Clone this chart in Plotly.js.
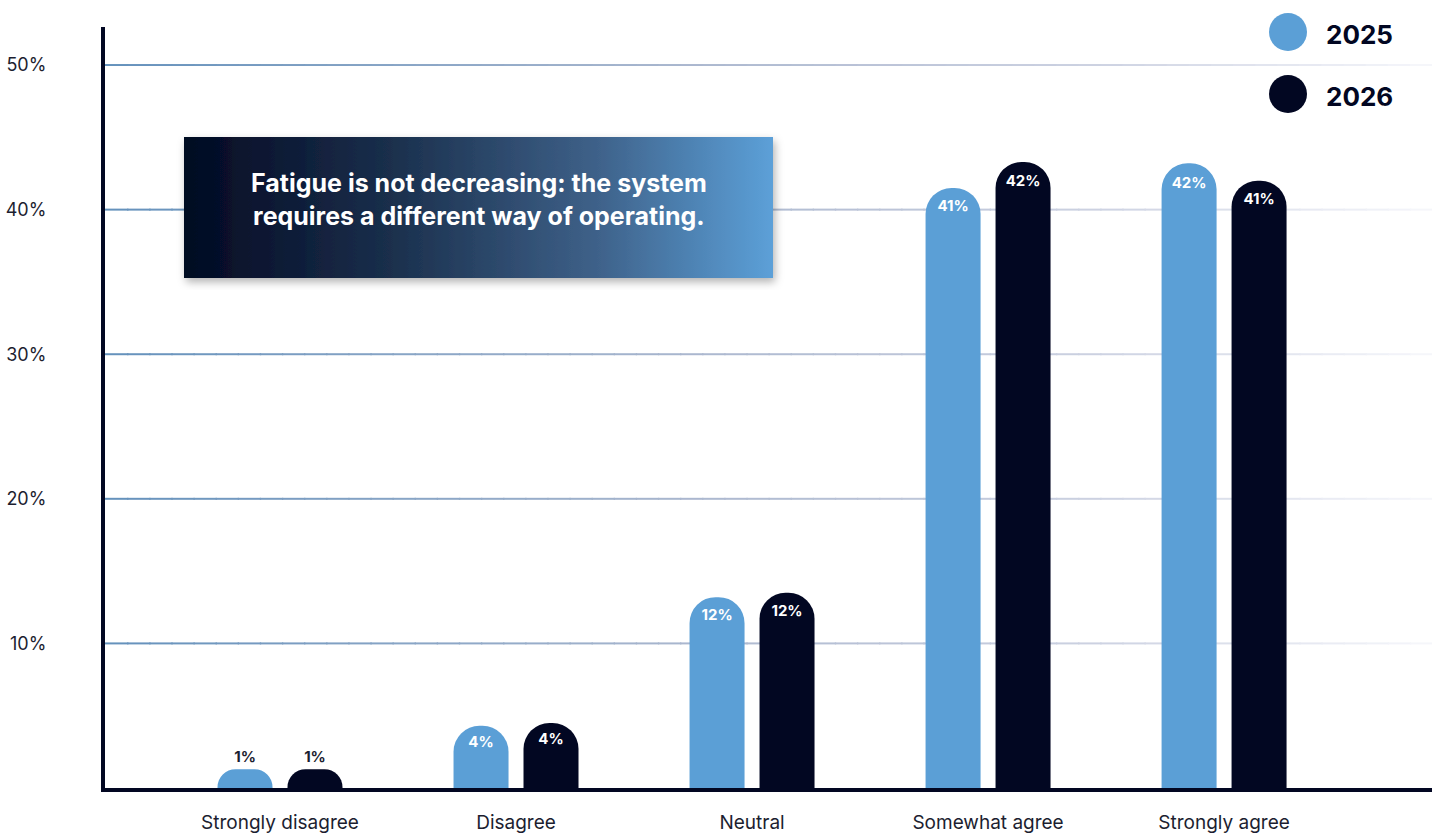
<!DOCTYPE html>
<html>
<head>
<meta charset="utf-8">
<script src="https://cdn.plot.ly/plotly-3.0.1.min.js"></script>
<style>
  html, body { margin: 0; padding: 0; background: #ffffff; }
  #chart { width: 1432px; height: 835px; }
</style>
</head>
<body>
<div id="chart"></div>
<script>
// ---- Data ----
const categories = ['Strongly disagree', 'Disagree', 'Neutral', 'Somewhat agree', 'Strongly agree'];
const seriesNames = ['2025', '2026'];
const values2025 = [1.3, 4.3, 13.2, 41.5, 43.2];
const values2026 = [1.3, 4.5, 13.5, 43.3, 42.0];
const labels2025 = ['1%', '4%', '12%', '41%', '42%'];
const labels2026 = ['1%', '4%', '12%', '42%', '41%'];
const yTickValues = [10, 20, 30, 40, 50];
const yTickLabels = ['10%', '20%', '30%', '40%', '50%'];
const calloutText = 'Fatigue is not decreasing: the system<br>requires a different way of operating.';

// ---- Styles ----
const FONT = 'Inter, "Noto Sans", sans-serif';
const BLUE = '#5b9fd6';
const NAVY = '#020722';
const TEXT_DARK = '#1c1e30';

function positions(vals) { return vals.map(v => v < 2 ? 'outside' : 'inside'); }

function barTrace(name, vals, labels, color) {
  return {
    type: 'bar',
    name: name,
    x: categories,
    y: vals,
    text: labels,
    textposition: positions(vals),
    insidetextanchor: 'end',
    textangle: 0,
    insidetextfont: { family: FONT, size: 15, color: '#ffffff', weight: 700 },
    outsidetextfont: { family: FONT, size: 15, color: TEXT_DARK, weight: 700 },
    marker: { color: color, line: { width: 0 } },
    hoverinfo: 'skip',
    cliponaxis: false,
    showlegend: false
  };
}

const traces = [
  barTrace(seriesNames[0], values2025, labels2025, BLUE),
  barTrace(seriesNames[1], values2026, labels2026, NAVY)
];

// Gradient gridlines (fading to the right)
const stops = [
  [0.00, [100, 145, 188]],
  [0.45, [172, 184, 207]],
  [0.75, [205, 210, 226]],
  [1.00, [246, 247, 251]]
];
function colorAt(t) {
  for (let i = 0; i < stops.length - 1; i++) {
    const [t0, c0] = stops[i], [t1, c1] = stops[i + 1];
    if (t >= t0 && t <= t1) {
      const f = (t - t0) / (t1 - t0);
      const c = c0.map((v, k) => Math.round(v + (c1[k] - v) * f));
      return 'rgb(' + c.join(',') + ')';
    }
  }
  return 'rgb(246,247,251)';
}
const shapes = [];
const SEG = 60;
yTickValues.forEach(v => {
  for (let k = 0; k < SEG; k++) {
    shapes.push({
      type: 'line', layer: 'below', xref: 'paper', yref: 'y',
      x0: k / SEG, x1: (k + 1) / SEG + 0.001, y0: v, y1: v,
      line: { color: colorAt((k + 0.5) / SEG), width: 2 }
    });
  }
});

// Legend circles
const L = 105, W = 1327, B = 788, H = 761;
const px = x => (x - L) / W;
const py = y => (B - y) / H;
shapes.push({ type: 'circle', xref: 'paper', yref: 'paper', x0: px(1269), x1: px(1307), y0: py(51), y1: py(13), fillcolor: BLUE, line: { width: 0 } });
shapes.push({ type: 'circle', xref: 'paper', yref: 'paper', x0: px(1269), x1: px(1307), y0: py(113), y1: py(75), fillcolor: NAVY, line: { width: 0 } });

// Callout box image (gradient + shadow)
const svg = '<svg xmlns="http://www.w3.org/2000/svg" width="613" height="165" viewBox="0 0 613 165">' +
  '<defs><linearGradient id="g" x1="0" y1="0" x2="1" y2="0">' +
  '<stop offset="0" stop-color="#020922"/><stop offset="0.35" stop-color="#1a2f4c"/>' +
  '<stop offset="0.7" stop-color="#3e6189"/><stop offset="1" stop-color="#5ca0d8"/></linearGradient>' +
  '<filter id="s" x="-10%" y="-20%" width="120%" height="140%"><feDropShadow dx="2" dy="4" stdDeviation="4" flood-color="#000" flood-opacity="0.3"/></filter></defs>' +
  '<rect x="12" y="12" width="589" height="141" fill="url(#g)" filter="url(#s)"/></svg>';
const images = [{
  source: 'data:image/svg+xml;charset=utf-8,' + encodeURIComponent(svg),
  xref: 'paper', yref: 'paper', x: px(172), y: py(125),
  sizex: 613 / W, sizey: 165 / H, sizing: 'stretch',
  xanchor: 'left', yanchor: 'top', layer: 'above'
}];

const annotations = [
  {
    xref: 'paper', yref: 'paper', x: px(479), y: py(199),
    xanchor: 'center', yanchor: 'middle', showarrow: false,
    text: calloutText, align: 'center',
    font: { family: FONT, size: 25, color: '#ffffff', weight: 700 }
  },
  {
    xref: 'paper', yref: 'paper', x: px(1324), y: py(35),
    xanchor: 'left', yanchor: 'middle', showarrow: false,
    text: seriesNames[0], font: { family: FONT, size: 26, color: NAVY, weight: 700 }
  },
  {
    xref: 'paper', yref: 'paper', x: px(1324), y: py(97),
    xanchor: 'left', yanchor: 'middle', showarrow: false,
    text: seriesNames[1], font: { family: FONT, size: 26, color: NAVY, weight: 700 }
  }
];

const layout = {
  width: 1432, height: 835,
  margin: { l: 105, r: 0, t: 27, b: 47, pad: 0 },
  paper_bgcolor: '#ffffff', plot_bgcolor: '#ffffff',
  font: { family: FONT, color: TEXT_DARK },
  barmode: 'group',
  bargap: 0.407,
  bargroupgap: 0.214,
  barcornerradius: 26,
  showlegend: false,
  xaxis: {
    type: 'category',
    range: [-0.7415, 4.881],
    showgrid: false, zeroline: false,
    showline: true, linecolor: NAVY, linewidth: 4,
    ticks: '', ticklabelstandoff: 14,
    tickfont: { family: FONT, size: 19, color: TEXT_DARK },
    fixedrange: true
  },
  yaxis: {
    range: [0, 52.63],
    tickvals: yTickValues, ticktext: yTickLabels,
    showgrid: false, zeroline: false,
    showline: true, linecolor: NAVY, linewidth: 4,
    ticks: '', ticklabelstandoff: 51,
    tickfont: { family: FONT, size: 18, color: TEXT_DARK },
    fixedrange: true
  },
  shapes: shapes,
  images: images,
  annotations: annotations
};

Plotly.newPlot('chart', traces, layout, { displayModeBar: false, staticPlot: true });
</script>
</body>
</html>
